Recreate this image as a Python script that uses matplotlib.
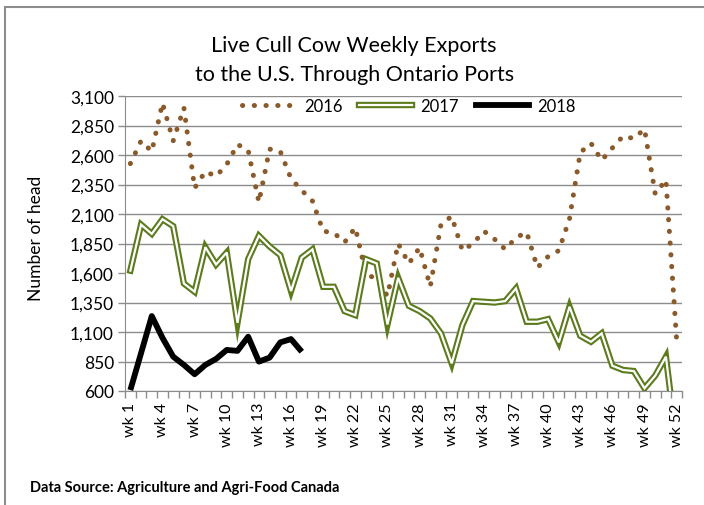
import matplotlib
matplotlib.use("Agg")
import matplotlib.pyplot as plt
from matplotlib.lines import Line2D
from matplotlib.legend_handler import HandlerTuple
from matplotlib.patches import Rectangle

plt.rcParams['font.family'] = ['Lato', 'DejaVu Sans']

# weekly live cull cow exports (head)
weeks = list(range(1, 53))
week_labels = ['wk %d' % w for w in weeks]
series_names = ['2016', '2017', '2018']

wk2016 = [2527, 2720, 2630, 3040, 2720, 3000, 2320, 2460, 2420, 2520,
          2690, 2640, 2200, 2650, 2630, 2400, 2300, 2210, 1955, 1940,
          1860, 1985, 1590, 1550, 1405, 1850, 1680, 1815, 1485, 2014,
          2080, 1790, 1850, 1955, 1887, 1800, 1900, 1945, 1645, 1740,
          1790, 2060, 2620, 2700, 2555, 2660, 2760, 2740, 2820, 2270,
          2390, 1030]
wk2017 = [1620, 2010, 1932, 2056, 1997, 1511, 1441, 1819, 1672, 1774,
          1178, 1717, 1915, 1825, 1751, 1447, 1730, 1800, 1483, 1483,
          1277, 1243, 1717, 1681, 1164, 1559, 1322, 1277, 1215, 1088,
          834, 1159, 1362, 1356, 1350, 1362, 1469, 1187, 1187, 1209,
          1012, 1314, 1068, 1017, 1088, 814, 778, 769, 623, 730,
          891, 150]
wk2018 = [608, 921, 1235, 1050, 891, 821, 742, 821, 872, 948,
          940, 1060, 849, 883, 1012, 1040, 933]

y_ticks = list(range(600, 3101, 250))

brown = '#8B5A2B'
green = '#5B7B1C'
grid_col = '#8c8c8c'

fig = plt.figure(figsize=(7.04, 5.06), dpi=100)
ax = fig.add_axes([125 / 704, 114 / 506, 557 / 704, 295 / 506])

dot_style = (0, (0.05, 2.3))
ax.plot(weeks, wk2016, color=brown, lw=3.6, linestyle=dot_style,
        dash_capstyle='round', zorder=3)
ax.plot(weeks, wk2017, color=green, lw=4.6, solid_joinstyle='miter', zorder=4)
ax.plot(weeks, wk2017, color='white', lw=1.6, solid_joinstyle='miter', zorder=5)
ax.plot(weeks[:len(wk2018)], wk2018, color='black', lw=4.2,
        solid_joinstyle='round', solid_capstyle='butt', zorder=6)

ax.set_xlim(0.5, 52.5)
ax.set_ylim(600, 3100)

# axes and ticks
ax.set_yticks(y_ticks)
ax.set_yticklabels(['{:,}'.format(v) for v in y_ticks], fontsize=12.5)
ax.set_xticks(weeks[::3])
ax.set_xticklabels(week_labels[::3], rotation=90, fontsize=11.5)
ax.set_xticks([w + 0.5 for w in range(0, 53)], minor=True)
ax.tick_params(axis='x', which='major', length=0, pad=8)
ax.tick_params(axis='x', which='minor', length=5, color=grid_col, width=1)
ax.tick_params(axis='y', length=5, color=grid_col, width=1, pad=3)

ax.yaxis.grid(True, color=grid_col, lw=1)
ax.set_axisbelow(True)
# the 2,600 gridline does not show in the original
ax.get_ygridlines()[4].set_visible(False)

ax.spines[['top', 'right']].set_visible(False)
ax.spines['left'].set_color(grid_col)
ax.spines['bottom'].set_color(grid_col)

ax.set_ylabel('Number of head', fontsize=12.5)
ax.yaxis.set_label_coords(-0.145, 0.52)

# legend
h2016 = Line2D([], [], color=brown, lw=3.6, linestyle=dot_style, dash_capstyle='round')
h2017 = (Line2D([], [], color=green, lw=4.6), Line2D([], [], color='white', lw=1.6))
h2018 = Line2D([], [], color='black', lw=4.2)
ax.legend([h2016, h2017, h2018], series_names, ncol=3, frameon=False,
          loc='center', bbox_to_anchor=(0.51, 0.966), fontsize=12,
          handlelength=3.2, handletextpad=0.5, columnspacing=1.0,
          handler_map={tuple: HandlerTuple(ndivide=1, pad=0)})

fig.text(0.503, 0.91, 'Live Cull Cow Weekly Exports', ha='center', va='center', fontsize=15.5)
fig.text(0.503, 0.852, 'to the U.S. Through Ontario Ports', ha='center', va='center', fontsize=15.5)
fig.text(30 / 704, 1 - 488 / 506, 'Data Source: Agriculture and Agri-Food Canada',
         ha='left', va='center', fontsize=10.5, fontweight='bold')

# outer border of the chart area
fig.patches.append(Rectangle((5 / 704, -0.1), 1.2, 1.1 - 8 / 506, transform=fig.transFigure,
                             fill=False, edgecolor=grid_col, lw=1.5))

fig.savefig('out.png', dpi=100)
